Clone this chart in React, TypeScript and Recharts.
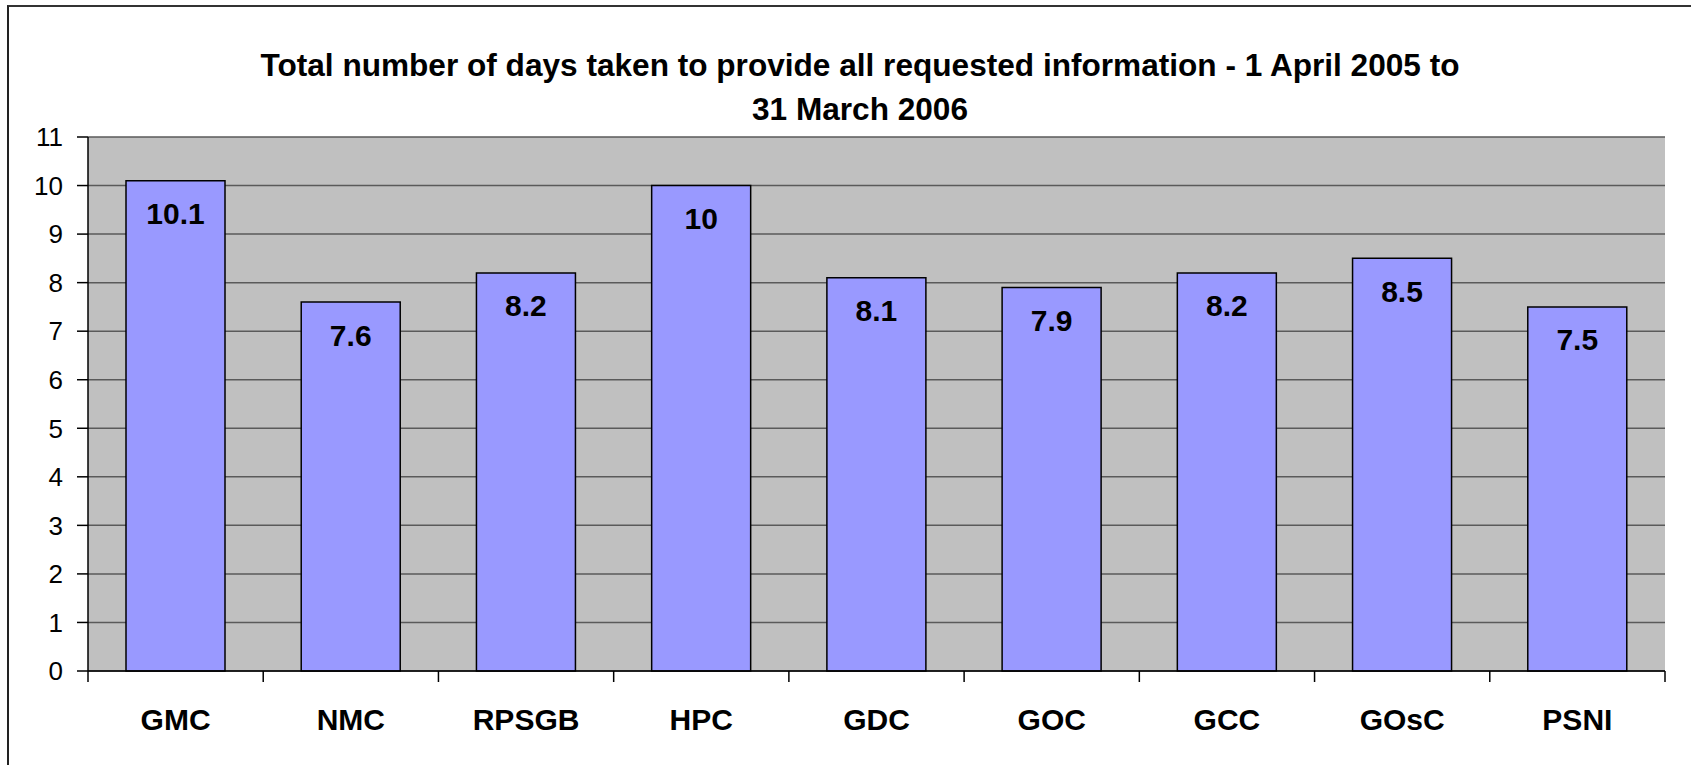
import React from "react";
import {
  BarChart,
  Bar,
  XAxis,
  YAxis,
  CartesianGrid,
  LabelList,
} from "recharts";

const FONT = "'Liberation Sans', Arial, sans-serif";
const BAR_FILL = "#9999FF";
const PLOT_BG = "#C0C0C0";
const GRID = "#5a5a5a";

const bodies = ["GMC", "NMC", "RPSGB", "HPC", "GDC", "GOC", "GCC", "GOsC", "PSNI"];
const days = [10.1, 7.6, 8.2, 10, 8.1, 7.9, 8.2, 8.5, 7.5];
const yTicks = [0, 1, 2, 3, 4, 5, 6, 7, 8, 9, 10, 11];

const data = bodies.map((name, i) => ({ name, days: days[i] }));

const W = 1691;
const H = 765;
const M = { top: 137, right: 26, bottom: 34, left: 28 };
const Y_AXIS_W = 60;
const BAND = (W - M.left - Y_AXIS_W - M.right) / bodies.length;

// value label sits inside the bar, just under its top edge
function InsideTopLabel(props: any) {
  const { x, y, width, value } = props;
  return (
    <text
      x={x + width / 2}
      y={y + 33}
      textAnchor="middle"
      dominantBaseline="central"
      fontFamily={FONT}
      fontWeight="bold"
      fontSize={30}
      fill="#000"
    >
      {value}
    </text>
  );
}

// category label + Excel style tick marks on the category boundaries
function CategoryTick(props: any) {
  const { x, y, payload, index, visibleTicksCount } = props;
  const half = payload && payload.offset ? payload.offset : BAND / 2;
  const last = index === (visibleTicksCount ?? bodies.length) - 1;
  return (
    <g>
      <line x1={x - half} x2={x - half} y1={y} y2={y + 11} stroke="#000" strokeWidth={1.5} />
      {last && (
        <line x1={x + half} x2={x + half} y1={y} y2={y + 11} stroke="#000" strokeWidth={1.5} />
      )}
      <text
        x={x}
        y={y + 38}
        dy="0.71em"
        textAnchor="middle"
        fontFamily={FONT}
        fontWeight="bold"
        fontSize={30}
        fill="#000"
      >
        {payload.value}
      </text>
    </g>
  );
}

export default function App() {
  return (
    <div
      style={{
        position: "fixed",
        left: 0,
        top: 0,
        width: W,
        height: H,
        background: "#fff",
        overflow: "hidden",
        fontFamily: FONT,
      }}
    >
      <style>{`html, body { margin: 0; overflow: hidden; }`}</style>
      {/* chart frame: only left and top edges are in view */}
      <div
        style={{
          position: "absolute",
          left: 7,
          top: 5,
          width: W + 40,
          height: H + 40,
          borderLeft: "2px solid #222",
          borderTop: "2px solid #333",
        }}
      />
      <div
        style={{
          position: "absolute",
          left: 160,
          top: 44,
          width: 1400,
          textAlign: "center",
          fontWeight: "bold",
          fontSize: 31.6,
          lineHeight: "43.5px",
          color: "#000",
        }}
      >
        Total number of days taken to provide all requested information - 1 April 2005 to
        <br />
        31 March 2006
      </div>
      <div style={{ position: "absolute", left: 0, top: 0 }}>
        <BarChart width={W} height={H} data={data} margin={M}>
          <CartesianGrid
            vertical={false}
            stroke={GRID}
            strokeWidth={1.5}
            fill={PLOT_BG}
            fillOpacity={1}
          />
          <XAxis
            dataKey="name"
            height={60}
            axisLine={{ stroke: "#000", strokeWidth: 1.5 }}
            tickLine={false}
            tickSize={0}
            tickMargin={0}
            interval={0}
            tick={<CategoryTick />}
          />
          <YAxis
            width={Y_AXIS_W}
            domain={[0, 11]}
            ticks={yTicks}
            interval={0}
            tickSize={11}
            tickMargin={14}
            tickLine={{ stroke: "#000", strokeWidth: 1.5 }}
            axisLine={{ stroke: "#000", strokeWidth: 1.5 }}
            tick={{ fill: "#000", fontSize: 26, fontFamily: FONT }}
          />
          <YAxis
            yAxisId="r"
            orientation="right"
            width={0}
            domain={[0, 11]}
            tick={false}
            tickLine={false}
            axisLine={{ stroke: "#8c8c8c", strokeWidth: 2 }}
          />
          <Bar
            dataKey="days"
            fill={BAR_FILL}
            stroke="#000"
            strokeWidth={1.5}
            barSize={99}
            isAnimationActive={false}
          >
            <LabelList dataKey="days" content={InsideTopLabel} />
          </Bar>
        </BarChart>
      </div>
    </div>
  );
}
